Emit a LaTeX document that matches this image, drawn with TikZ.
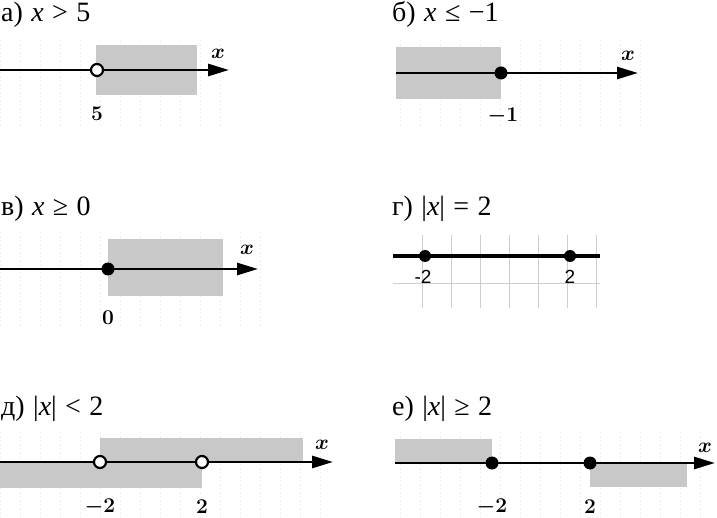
\RequirePackage{fix-cm}
\documentclass[tikz,border=0pt]{standalone}
\usepackage{fontspec}
\setmainfont{Liberation Serif}
\newfontfamily\arialf{Liberation Sans}
\usetikzlibrary{arrows.meta}
\definecolor{shade}{RGB}{200,200,200}
\definecolor{faint}{RGB}{240,240,240}
\definecolor{gridg}{RGB}{205,205,205}
\newcommand{\gp}{\hspace{0.3em}}
\begin{document}
\begin{tikzpicture}[x=1pt,y=-1pt,
 title/.style={anchor=base west, inner sep=0, font=\fontsize{28}{28}\selectfont},
 lbl/.style={inner sep=0, font=\fontsize{21}{21}\selectfont\boldmath},
 albl/.style={inner sep=0, font=\arialf\fontsize{19}{19}\selectfont},
 axis/.style={line width=2.8pt, -{Triangle[length=21pt,width=12pt]}},
 fdot/.style={circle, fill=black, minimum size=13pt, inner sep=0},
 sdot/.style={circle, fill=black, minimum size=12pt, inner sep=0},
 odot/.style={circle, draw=black, fill=white, line width=2.2pt, minimum size=12pt, inner sep=0},
 region/.style={fill=shade},
 fgrid/.style={draw=faint, line width=0.6pt, dash pattern=on 2pt off 2pt},
 ggrid/.style={draw=gridg, line width=1pt}]
\useasboundingbox (0,0) rectangle (717,518);

% faint grids
\draw[fgrid,step=20] (0,38) grid (232,126);
\draw[fgrid,step=20] (395,38) grid (640,126);
\draw[fgrid,step=20] (0,232) grid (260,326);
\draw[fgrid,step=20] (0,432) grid (335,518);
\draw[fgrid,step=20] (395,432) grid (717,518);

% а
\node[title] (ta) at (1,22) {а)\gp\textit{x}\gp>\gp5};
\fill[region] (96,45) rectangle (197,95);
\coordinate (a0) at (0,70); \coordinate (a1) at (229,70);
\draw[axis] (a0) -- (a1);
\node[odot] (ap) at (97,70) {};
\node[lbl] (ax) at (218,54) {$x$};
\node[lbl] (al) at (97,114) {$5$};

% б
\node[title] (tb) at (392,22) {б)\gp\textit{x}\gp≤\gp−1};
\fill[region] (396,47) rectangle (501,99);
\coordinate (b0) at (396,73); \coordinate (b1) at (638,73);
\draw[axis] (b0) -- (b1);
\node[fdot] (bp) at (501,73) {};
\node[lbl] (bx) at (628,56) {$x$};
\node[lbl] (bl) at (503,116) {$-1$};

% в
\node[title] (tv) at (1,216) {в)\gp\textit{x}\gp≥\gp0};
\fill[region] (108,239) rectangle (223,296);
\coordinate (v0) at (0,269); \coordinate (v1) at (258,269);
\draw[axis] (v0) -- (v1);
\node[fdot] (vp) at (108,269) {};
\node[lbl] (vx) at (247,250) {$x$};
\node[lbl] (vl) at (108,318) {$0$};

% г
\node[title] (tg) at (392,216) {г)\gp|\textit{x}|\gp=\gp2};
\foreach \xx in {422,451,480,509,538,567,596} \draw[ggrid] (\xx,235) -- (\xx,308);
\draw[ggrid] (393,284) -- (600,284);
\coordinate (g0) at (393,256); \coordinate (g1) at (600,256);
\draw[line width=4pt] (g0) -- (g1);
\node[sdot] (gp1) at (425,256) {};
\node[sdot] (gp2) at (570,256) {};
\node[albl] (gl1) at (423,277) {-2};
\node[albl] (gl2) at (570,277) {2};

% д
\node[title] (td) at (1,415) {д)\gp|\textit{x}|\gp<\gp2};
\fill[region] (100,438) rectangle (303,462);
\fill[region] (0,462) rectangle (202,488);
\coordinate (d0) at (0,462); \coordinate (d1) at (333,462);
\draw[axis] (d0) -- (d1);
\node[odot] (dp1) at (100,462) {};
\node[odot] (dp2) at (202,462) {};
\node[lbl] (dx) at (322,445) {$x$};
\node[lbl] (dl1) at (100,507) {$-2$};
\node[lbl] (dl2) at (202,507) {$2$};

% е
\node[title] (te) at (392,415) {е)\gp|\textit{x}|\gp≥\gp2};
\fill[region] (395,439) rectangle (492,463);
\fill[region] (590,463) rectangle (687,487);
\coordinate (e0) at (395,463); \coordinate (e1) at (715,463);
\draw[axis] (e0) -- (e1);
\node[fdot] (ep1) at (492,463) {};
\node[fdot] (ep2) at (590,463) {};
\node[lbl] (ex) at (705,448) {$x$};
\node[lbl] (el1) at (492,507) {$-2$};
\node[lbl] (el2) at (590,507) {$2$};
\end{tikzpicture}
\end{document}
